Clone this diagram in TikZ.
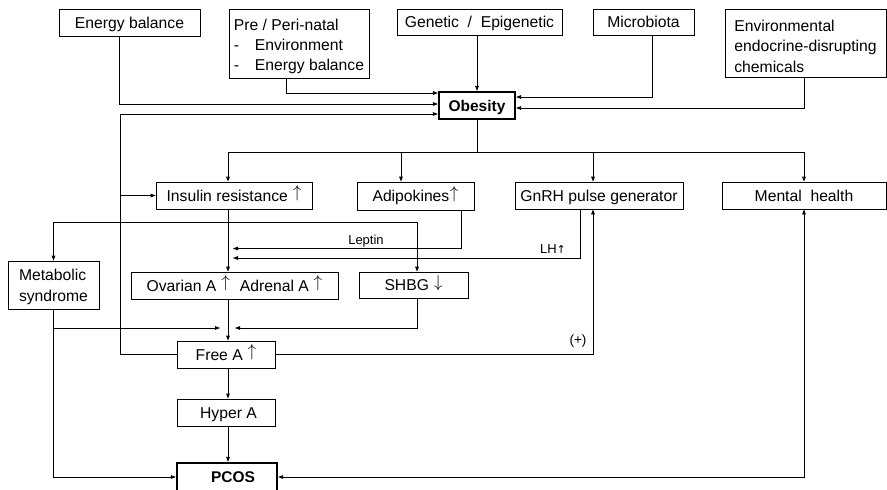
\documentclass[tikz,border=0pt]{standalone}
\usepackage{fontspec}
\setmainfont{Liberation Sans}
\newfontfamily\dejavu{DejaVu Sans}
\usetikzlibrary{arrows.meta}
\newcommand{\myup}{\hspace{0.5pt}\raisebox{3.2pt}{\fontsize{18}{20}\selectfont$\uparrow$}}
\newcommand{\mydown}{\hspace{0.5pt}\raisebox{3.2pt}{\fontsize{18}{20}\selectfont$\downarrow$}}
\begin{document}
\begin{tikzpicture}[x=1pt,y=-1pt,
  box/.style={draw, line width=0.8pt, inner sep=0pt, font=\fontsize{15.7}{20.4}\selectfont, text height=11.2pt, text depth=0pt},
  mbox/.style={draw, line width=0.8pt, inner sep=0pt},
  txt/.style={font=\fontsize{15.7}{20.4}\selectfont, inner sep=0pt, align=left},
  thickbox/.style={box, line width=2.2pt, font=\fontsize{15.5}{20}\selectfont\bfseries},
  ln/.style={line width=0.8pt},
  arr/.style={ln, -{Triangle[length=5pt,width=3.6pt]}},
  arrb/.style={ln, {Triangle[length=5pt,width=3.6pt]}-{Triangle[length=5pt,width=3.6pt]}},
  small/.style={font=\fontsize{13}{14}\selectfont, inner sep=0pt}]
\clip (0,0) rectangle (887,490);
\fill[white] (0,0) rectangle (887,490);
% top row
\node[box, minimum width=141, minimum height=27] (eb) at (129.5,22.5) {Energy balance};
\node[mbox, minimum width=140, minimum height=69,
  label={[txt, yshift=-3]center:{Pre / Peri-natal\\\makebox[21pt][l]{-}Environment\\\makebox[21pt][l]{-}Energy balance}}] (pre) at (299,43.5) {};
\node[box, minimum width=165, minimum height=26] (gen) at (479.5,22) {Genetic~~/~~Epigenetic};
\node[box, minimum width=101, minimum height=26] (mic) at (643.5,22) {Microbiota};
\node[mbox, minimum width=161, minimum height=68,
  label={[txt, yshift=-3]center:{Environmental\\endocrine-disrupting\\chemicals}}] (edc) at (805.5,43) {};
\node[thickbox, minimum width=76, minimum height=27] (obe) at (477,105.5) {Obesity};
% second row
\node[box, minimum width=156, minimum height=27] (ins) at (234,195.5) {Insulin resistance \myup};
\node[box, minimum width=117, minimum height=28] (adi) at (415.5,196) {Adipokines\myup};
\node[box, minimum width=168, minimum height=27] (gnrh) at (599,195.5) {GnRH pulse generator};
\node[box, minimum width=164, minimum height=27] (men) at (804,195.5) {Mental~~health};
% third row
\node[mbox, minimum width=91, minimum height=48,
  label={[txt, yshift=-2]center:{Metabolic\\syndrome}}] (met) at (53.5,285) {};
\node[box, minimum width=207, minimum height=27] (ova) at (234.5,285.5) {Ovarian A \myup\hspace{10pt}Adrenal A \myup};
\node[box, minimum width=109, minimum height=26] (shbg) at (413.5,285) {SHBG \mydown};
% lower column
\node[box, minimum width=98, minimum height=27] (free) at (226,354.5) {Free A \myup};
\node[box, minimum width=98, minimum height=27] (hyp) at (226,412.5) {\hspace{5pt}Hyper A};
\node[thickbox, minimum width=100, minimum height=28] (pcos) at (227,477) {\hspace{12pt}PCOS};

% inputs to obesity
\draw[arr] ([xshift=-13]pre.south) |- ([yshift=12.5]obe.west);
\draw[arr] ([xshift=-10.5]eb.south) |- ([yshift=1.5]obe.west);
\draw[arr] (gen.south -| obe.north) -- (obe.north);
\draw[arr] ([xshift=8.5]mic.south) |- ([yshift=8.5]obe.east);
\draw[arr] ([xshift=-1.5]edc.south) |- ([yshift=-2.5]obe.east);
% feedback from Free A
\coordinate (fbtop) at (120,114);
\draw[arr] (free.west) -| (fbtop) -- ([yshift=-8.5]obe.west);
\draw[arr] (ins.west -| fbtop) -- (ins.west);
% obesity bus
\coordinate (bus) at (477,152);
\draw[ln] (obe.south) -- (bus);
\draw[arr] (bus) -| ([xshift=-6]ins.north);
\draw[arr] (bus) -| ([xshift=-14.5]adi.north);
\draw[arr] (bus) -| ([xshift=-6]gnrh.north);
\draw[arr] (bus) -| (men.north);
% insulin resistance
\draw[arr] ([xshift=-6]ins.south) -- ([xshift=-6.5]ova.north);
\coordinate (j1) at (228,222);
\draw[arr] (j1) -| (met.north);
\draw[arr] (j1) -| ([xshift=3.5]shbg.north);
% leptin and LH
\draw[arr] ([xshift=45.5]adi.south) |- (233,248.5);
\node[small] (lep) at (366,241) {Leptin};
\draw[arr] ([xshift=-19]gnrh.south) |- (233,258);
\node[small] (lh) at (553,249) {LH{\dejavu\fontsize{11}{12}\selectfont ↑}};
% into Free A
\draw[arr] (met.south) |- (220,328);
\draw[arr] ([xshift=3.5]shbg.south) |- (235,328);
\draw[arr] ([xshift=-6.5]ova.south) -- ([xshift=2]free.north);
\draw[arr] (free.east) -| ([xshift=-6]gnrh.south);
\node[small, font=\fontsize{13.5}{14}\selectfont] (plus) at (578,341) {(+)};
\draw[arr] ([xshift=2]free.south) -- ([xshift=2]hyp.north);
\draw[arr] ([xshift=2]hyp.south) -- ([xshift=1]pcos.north);
\draw[arr] (met.south) |- (pcos.west);
\draw[arrb] (men.south) |- (pcos.east);
\end{tikzpicture}
\end{document}
